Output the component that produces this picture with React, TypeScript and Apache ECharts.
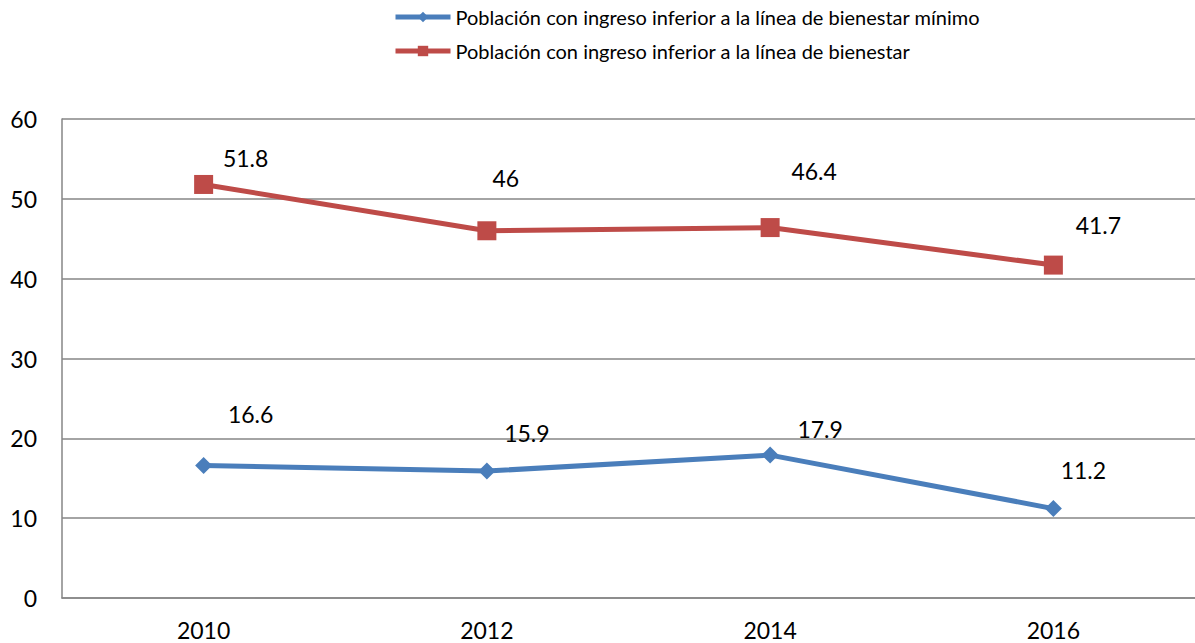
import React, { useEffect, useRef } from "react";
import * as echarts from "echarts";

const years = ["2010", "2012", "2014", "2016"];
const minimo = [16.6, 15.9, 17.9, 11.2];
const bienestar = [51.8, 46, 46.4, 41.7];
const seriesNames = [
  "Población con ingreso inferior a la línea de bienestar mínimo",
  "Población con ingreso inferior a la línea de bienestar",
];

// label offsets (styling only)
const minimoOffsets = [[47, -51], [40, -38], [50, -26], [30, -39]];
const bienestarOffsets = [[42, -26], [19, -53], [44, -57], [45, -40]];

const FONT = "Lato, 'Open Sans', sans-serif";

export default function App() {
  const ref = useRef<HTMLDivElement>(null);
  useEffect(() => {
    const chart = echarts.init(ref.current!, null, { renderer: "svg" });
    const mk = (vals: number[], offs: number[][]) =>
      vals.map((v, i) => ({
        value: v,
        label: {
          show: true,
          position: "inside",
          align: "center",
          verticalAlign: "middle",
          offset: offs[i],
          color: "#000",
          fontSize: 23,
          fontFamily: FONT,
        },
      }));
    chart.setOption({
      animation: false,
      textStyle: { fontFamily: FONT },
      legend: {
        orient: "vertical",
        left: 393,
        top: 5,
        padding: 0,
        itemWidth: 55,
        itemHeight: 13,
        itemGap: 10,
        lineStyle: { width: 5 },
        textStyle: { fontSize: 20, color: "#000", fontFamily: FONT, lineHeight: 24 },
        data: seriesNames,
      },
      grid: { left: 62, top: 119, width: 1136, height: 479, containLabel: false },
      xAxis: {
        type: "category",
        data: years,
        boundaryGap: true,
        axisLine: { lineStyle: { color: "#868686", width: 1.5 } },
        axisTick: { show: false },
        axisLabel: { color: "#000", fontSize: 23, margin: 20, fontFamily: FONT },
      },
      yAxis: {
        type: "value",
        min: 0,
        max: 60,
        interval: 10,
        axisLine: { show: true, lineStyle: { color: "#868686", width: 1.5 } },
        axisTick: { show: false },
        splitLine: { lineStyle: { color: "#868686", width: 1.5 } },
        axisLabel: { color: "#000", fontSize: 23, margin: 25, fontFamily: FONT },
      },
      series: [
        {
          name: seriesNames[0],
          type: "line",
          data: mk(minimo, minimoOffsets),
          symbol: "diamond",
          symbolSize: 17,
          lineStyle: { color: "#4A7EBB", width: 5 },
          itemStyle: { color: "#4A7EBB" },
        },
        {
          name: seriesNames[1],
          type: "line",
          data: mk(bienestar, bienestarOffsets),
          symbol: "rect",
          symbolSize: 19,
          lineStyle: { color: "#BE4B48", width: 5 },
          itemStyle: { color: "#BE4B48" },
        },
      ],
    });
    return () => chart.dispose();
  }, []);
  return (
    <div
      ref={ref}
      style={{ position: "absolute", left: 0, top: 0, width: 1195, height: 643, background: "#fff" }}
    />
  );
}
